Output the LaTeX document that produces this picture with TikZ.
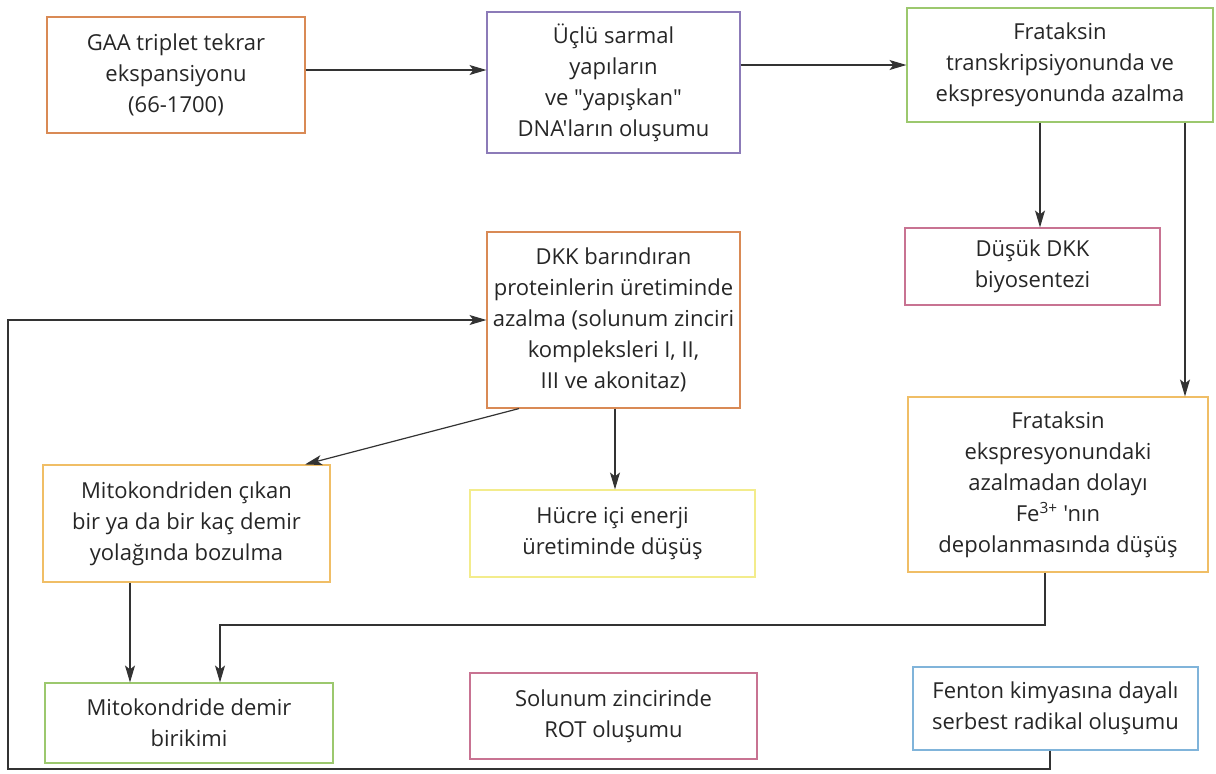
\documentclass[tikz,border=0pt]{standalone}
\usepackage{fontspec}
\setmainfont{Open Sans}[Ligatures=TeXOff]
\usetikzlibrary{arrows.meta}
\definecolor{cOrange}{HTML}{D98A55}
\definecolor{cPurple}{HTML}{8C7BB8}
\definecolor{cGreen}{HTML}{9CC86E}
\definecolor{cPink}{HTML}{C87392}
\definecolor{cAmber}{HTML}{F0BE66}
\definecolor{cYellow}{HTML}{F3EC8C}
\definecolor{cBlue}{HTML}{80B4DA}
\definecolor{cLine}{HTML}{333333}
\tikzset{
  box/.style={draw, line width=1.1pt, fill=white, align=center, inner sep=0pt,
    text=black!85, font=\fontsize{22}{31}\selectfont},
  arr/.style={draw=cLine, line width=1.2pt, -{Stealth[length=17pt,width=10pt,inset=4pt]}},
}
\begin{document}
\begin{tikzpicture}[x=1pt,y=-1pt]
\useasboundingbox (0,0) rectangle (1216,774);

% top row
\node[box, draw=cOrange, minimum width=258pt, minimum height=116pt] (A) at (176,75)
  {GAA triplet tekrar\\ekspansiyonu\\(66-1700)};
\node[box, draw=cPurple, minimum width=253pt, minimum height=141pt] (B) at (613.5,82.5)
  {Üçlü sarmal\\yapıların\\ve "yapışkan"\\DNA'ların oluşumu};
\node[box, draw=cGreen, minimum width=306pt, minimum height=114pt] (C) at (1060,65)
  {Frataksin\\transkripsiyonunda ve\\ekspresyonunda azalma};

% middle rows
\node[box, draw=cPink, minimum width=255pt, minimum height=77pt] (D) at (1032.5,266.5)
  {Düşük DKK\\biyosentezi};
\node[box, draw=cOrange, minimum width=253pt, minimum height=176pt] (E) at (613.5,320)
  {DKK barındıran\\proteinlerin üretiminde\\azalma (solunum zinciri\\kompleksleri I, II,\\III ve akonitaz)};
\node[box, draw=cAmber, minimum width=300pt, minimum height=175pt] (F) at (1058,484.5)
  {Frataksin\\ekspresyonundaki\\azalmadan dolayı\\Fe\textsuperscript{3+} 'nın\\depolanmasında düşüş};
\node[box, draw=cAmber, minimum width=287pt, minimum height=117pt] (G) at (186.5,523.5)
  {Mitokondriden çıkan\\bir ya da bir kaç demir\\yolağında bozulma};
\node[box, draw=cYellow, minimum width=285pt, minimum height=87pt] (H) at (612.5,533.5)
  {Hücre içi enerji\\üretiminde düşüş};

% bottom row
\node[box, draw=cGreen, minimum width=288pt, minimum height=80pt] (I) at (189,723)
  {Mitokondride demir\\birikimi};
\node[box, draw=cPink, minimum width=287pt, minimum height=86pt] (J) at (613.5,716)
  {Solunum zincirinde\\ROT oluşumu};
\node[box, draw=cBlue, minimum width=285pt, minimum height=83pt] (K) at (1055.5,708.5)
  {Fenton kimyasına dayalı\\serbest radikal oluşumu};

% connectors
\draw[arr] (A.east |- 0,70) -- (B.west |- 0,70);
\draw[arr] (B.east |- 0,65) -- (C.west |- 0,65);
\draw[arr] (C.south -| 1040,0) -- (D.north -| 1040,0);
\draw[arr] (C.south -| 1185,0) -- (F.north -| 1185,0);
\draw[arr] (E.south -| 519,0) -- (G.north -| 305,0);
\draw[arr] (E.south -| 615,0) -- (H.north -| 615,0);
\draw[arr] (G.south -| 130,0) -- (I.north -| 130,0);
\coordinate (fBend) at (1045,625);
\draw[arr] (F.south -| fBend) |- (220,625) -- (I.north -| 220,0);
\coordinate (loopLeft) at (8,320);
\draw[arr] (K.south -| 1050,0) -- (1050,769) -| (loopLeft) -- (E.west |- loopLeft);
\end{tikzpicture}
\end{document}
